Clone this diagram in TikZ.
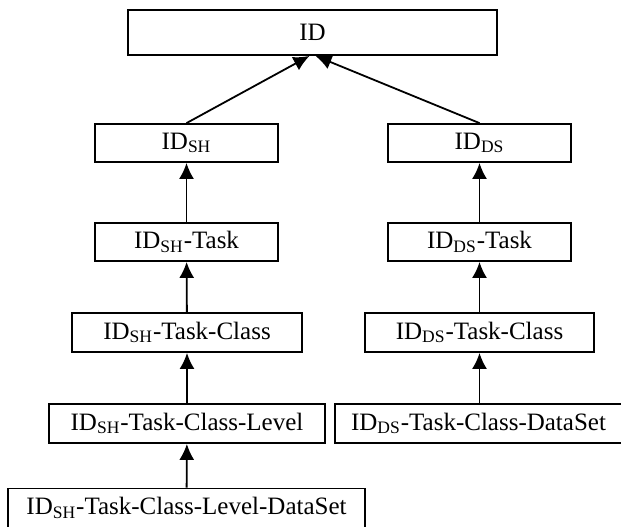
\documentclass[tikz,border=0pt]{standalone}
\usepackage{fontspec}
\setmainfont{Liberation Serif}
\usetikzlibrary{arrows.meta}

\newcommand{\idsh}{ID\textsubscript{SH}}
\newcommand{\idds}{ID\textsubscript{DS}}

\begin{document}
\begin{tikzpicture}[x = 0.5pt, y = -0.5pt,
    box/.style = {draw, line width=0.9pt, inner sep=0pt, font=\fontsize{12.5}{14}\selectfont},
    arr/.style = {line width=0.9pt, -{Latex[length=8pt, width=7.5pt]}}]
    \useasboundingbox (0,0) rectangle (621,526);
    % root
    \node[box, minimum width=184.5pt, minimum height=22.5pt] (id) at (312.5,32.5) {ID};
    % left branch
    \node[box, minimum width=91.5pt, minimum height=19pt] (sh) at (186.5,143) {\idsh};
    \node[box, minimum width=91.5pt, minimum height=19pt] (shtask) at (186.5,242) {\idsh-Task};
    \node[box, minimum width=115pt, minimum height=19.5pt] (shclass) at (187,332.5) {\idsh-Task-Class};
    \node[box, minimum width=138pt, minimum height=19.5pt] (shlevel) at (187,423.5) {\idsh-Task-Class-Level};
    \node[box, minimum width=178.5pt, minimum height=19.5pt] (shdata) at (186.5,508) {\idsh-Task-Class-Level-DataSet};
    % right branch
    \node[box, minimum width=91.5pt, minimum height=19pt] (ds) at (479.5,143) {\idds};
    \node[box, minimum width=91.5pt, minimum height=19pt] (dstask) at (479.5,242) {\idds-Task};
    \node[box, minimum width=114.5pt, minimum height=19.5pt] (dsclass) at (479.5,332.5) {\idds-Task-Class};
    \node[box, minimum width=143.5pt, minimum height=19.5pt] (dsdata) at (478.5,423.5) {\idds-Task-Class-DataSet};
    % arrows
    \draw[arr] (sh.north) -- ([xshift=-1.5pt]id.south);
    \draw[arr] (ds.north) -- ([xshift=1.5pt]id.south);
    \draw[arr] (shtask) -- (sh);
    \draw[arr] (shclass) -- (shtask);
    \draw[arr] (shlevel) -- (shclass);
    \draw[arr] (shdata) -- (shlevel);
    \draw[arr] (dstask) -- (ds);
    \draw[arr] (dsclass) -- (dstask);
    \draw[arr] (dsdata.north -| dsclass.south) -- (dsclass.south);
\end{tikzpicture}
\end{document}
